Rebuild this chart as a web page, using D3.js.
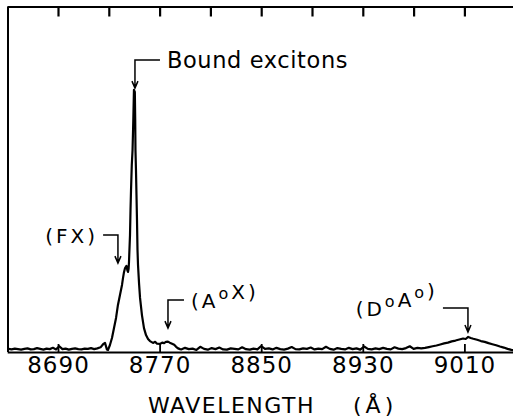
<!DOCTYPE html>
<html>
<head>
<meta charset="utf-8">
<script src="https://cdn.jsdelivr.net/npm/d3@7"></script>
<style>
  body { margin: 0; background: #fff; }
  svg { display: block; }
  text { font-family: "DejaVu Sans", sans-serif; fill: #000; }
</style>
</head>
<body>
<svg id="canvas"></svg>
<script>
// spectrum: wavelength (angstrom) and intensity (arb. units)
let wavelength = [
    8651, 8653.5, 8656, 8658.5, 8661, 8663.5, 8666, 8668.5, 8671, 8673.5,
    8676, 8678.5, 8681, 8683.5, 8686, 8688.5, 8691, 8693.5, 8696, 8698.5,
    8701, 8703.5, 8706, 8708.5, 8711, 8713.5, 8716, 8718.5, 8721, 8723.5,
    8725.5, 8727, 8728.5, 8729.4,
    8730.9, 8732.5, 8734.1, 8735.7, 8737.2, 8738.8, 8740.4, 8741.2, 8742.0, 8742.8,
    8743.9, 8744.6, 8745.1, 8745.6, 8745.9, 8746.1, 8746.7, 8747.1, 8747.5, 8748.1,
    8748.7, 8749.3, 8749.8, 8750.5, 8750.8, 8751.0, 8751.4, 8751.8, 8752.2, 8752.6,
    8753.0, 8753.8, 8754.6, 8756.1, 8757.7, 8759.3, 8760.9, 8762.4, 8764.8, 8766.5,
    8768, 8770.3, 8772, 8773.5, 8775, 8776.6, 8778, 8779.8, 8781.5, 8783,
    8784.5, 8786.1,
    8787, 8790, 8793, 8796, 8799, 8802, 8805, 8808, 8811, 8814,
    8817, 8820, 8823, 8826, 8829, 8832, 8835, 8838, 8841, 8844,
    8847, 8850, 8853, 8856, 8859, 8862, 8865, 8868, 8871, 8874,
    8877, 8880, 8883, 8886, 8889, 8892, 8895, 8898, 8901, 8904,
    8907, 8910, 8913, 8916, 8919, 8922, 8925, 8928, 8931, 8934,
    8937, 8940, 8943, 8946, 8949, 8952, 8955, 8958, 8961, 8964,
    8967, 8970, 8973, 8976,
    8979, 8982, 8985, 8988, 8991, 8994, 8997, 9000, 9003, 9006,
    9009, 9011, 9013, 9015, 9017, 9020, 9023, 9026, 9029, 9032,
    9035, 9038, 9041, 9044, 9047, 9050
]
let intensity = [
    1.2, 1.0, 1.3, 1.1, 0.9, 1.2, 1.4, 1.0, 1.1, 1.5,
    1.2, 0.9, 1.3, 1.1, 1.6, 1.0, 2.2, 1.1, 1.3, 0.9,
    1.2, 1.4, 1.1, 1.0, 1.3, 1.2, 1.5, 1.1, 1.4, 1.8,
    3.0, 3.5, 1.0, 0.8,
    2.7, 5.4, 9.2, 13.1, 18.1, 21.9, 25.8, 28.5, 30.8, 32.3,
    33.1, 31.5, 30.8, 32.0, 34.6, 37.3, 45, 54.6, 62.3, 71.9,
    77.7, 89.2, 100.8, 100, 89.2, 77.7, 70, 60.4, 50.8, 39.2,
    33.5, 26.5, 20.8, 14.2, 9.2, 6.5, 5.0, 4.2, 3.5, 3.9,
    3.2, 3.1, 3.6, 3.4, 3.9, 4.0, 3.6, 3.2, 2.8, 2.0,
    1.4, 1.1,
    1.0, 1.6, 1.1, 1.3, 0.8, 2.0, 1.2, 0.9, 1.5, 1.1,
    1.7, 1.0, 0.9, 1.4, 1.2, 1.0, 1.8, 1.1, 0.9, 1.3,
    1.0, 2.3, 1.2, 1.4, 1.0, 1.6, 1.1, 0.9, 1.3, 1.9,
    1.1, 1.0, 1.4, 1.2, 1.7, 1.0, 1.3, 1.1, 2.0, 1.2,
    0.9, 1.5, 1.2, 1.0, 1.6, 1.1, 1.4, 0.9, 2.1, 1.2,
    1.0, 1.4, 1.1, 1.6, 1.2, 1.0, 1.8, 1.3, 1.1, 1.5,
    2.2, 1.2, 1.6, 1.4,
    1.6, 1.9, 2.2, 2.5, 2.9, 3.3, 3.6, 4.1, 4.4, 4.8,
    5.2, 5.0, 5.8, 5.4, 5.1, 4.7, 4.2, 3.9, 3.4, 3.0,
    2.6, 2.1, 1.7, 1.2, 0.8, 0.6
]

let labelTicks = [8690, 8770, 8850, 8930, 9010]
let topTicks = [8690, 8730, 8770, 8810, 8850, 8890, 8930, 8970, 9010, 9050]

// annotation arrows: tip wavelength / intensity, elbow height, run of the horizontal bar
let notes = [
    {text: "Bound excitons", tipW: 8750.6, tipV: 101.5, barV: 112.3, barW: 8770.3, side: "right"},
    {text: "(FX)", tipW: 8737.2, tipV: 34.2, barV: 45.0, barW: 8725.5, side: "left"},
    {text: "(A0X)", tipW: 8776.6, tipV: 9.2, barV: 20.0, barW: 8789.2, side: "right"},
    {text: "(D0A0)", tipW: 9012.8, tipV: 7.7, barV: 16.9, barW: 8993.1, side: "left"}
]

let width = 513
let height = 418

let canvas = d3.select("#canvas")
    .attr("width", width)
    .attr("height", height)

let xScale = d3.scaleLinear()
    .domain([8650, 9050])
    .range([7.2, 515.2])

let yScale = d3.scaleLinear()
    .domain([0, 100])
    .range([352, 92])

let frameTop = 6.5

let bottomAxis = d3.axisBottom(xScale)
    .tickValues(labelTicks)
    .tickSize(-8)
    .tickSizeOuter(0)
    .tickPadding(5)
    .tickFormat(d3.format("d"))

canvas.append("g")
    .attr("transform", "translate(0,352)")
    .call(bottomAxis)
    .call(g => g.select(".domain").attr("stroke-width", 2))
    .call(g => g.selectAll(".tick line").attr("stroke-width", 1.8))
    .call(g => g.selectAll(".tick text")
        .attr("font-size", 23)
        .attr("font-family", "DejaVu Sans")
        .attr("letter-spacing", 1))

// spectrum
let points = wavelength.map((w, i) => [w, intensity[i]])

let line = d3.line()
    .x(d => xScale(d[0]))
    .y(d => yScale(d[1]))

canvas.append("path")
    .datum(points)
    .attr("d", line)
    .attr("fill", "none")
    .attr("stroke", "#000")
    .attr("stroke-width", 2.2)
    .attr("stroke-linejoin", "round")

// annotations
notes.forEach(n => {
    let tx = xScale(n.tipW)
    let ty = yScale(n.tipV)
    let by = yScale(n.barV)
    let bx = xScale(n.barW)

    canvas.append("path")
        .attr("d", "M" + bx + "," + by + "H" + tx + "V" + ty
            + "M" + (tx - 3) + "," + (ty - 7) + "L" + tx + "," + ty + "L" + (tx + 3) + "," + (ty - 7))
        .attr("fill", "none")
        .attr("stroke", "#000")
        .attr("stroke-width", 1.5)

    let big = n.text == "Bound excitons"
    let label = canvas.append("text")
        .attr("font-size", big ? 22.5 : 20)
        .attr("letter-spacing", big ? 0.6 : 3)
        .attr("y", by + 8)

    if (n.side == "right") {
        label.attr("x", bx + 7).attr("text-anchor", "start")
    } else {
        label.attr("x", bx - 5).attr("text-anchor", "end")
    }

    // superscript zeros
    let parts = n.text.split(/(0)/)
    parts.forEach(p => {
        if (p == "0") {
            label.append("tspan")
                .attr("dy", -9)
                .attr("font-size", 16)
                .text("o")
            label.append("tspan").attr("dy", 9).text("")
        } else if (p.length) {
            label.append("tspan").text(p)
        }
    })
})

canvas.append("text")
    .attr("x", 148)
    .attr("y", 413)
    .attr("font-size", 22)
    .attr("letter-spacing", 1.5)
    .text("WAVELENGTH")

canvas.append("text")
    .attr("x", 353)
    .attr("y", 413)
    .attr("font-size", 22)
    .attr("letter-spacing", 4)
    .text("(Å)")

// frame: left side, then the top axis with inward ticks
canvas.append("line")
    .attr("x1", 8).attr("x2", 8)
    .attr("y1", frameTop).attr("y2", 352)
    .attr("stroke", "#000")
    .attr("stroke-width", 2)

let topAxis = d3.axisTop(xScale)
    .tickValues(topTicks)
    .tickSize(-10)
    .tickSizeOuter(0)
    .tickFormat(() => "")

canvas.append("g")
    .attr("transform", "translate(0," + frameTop + ")")
    .call(topAxis)
    .call(g => g.select(".domain").attr("stroke-width", 2))
    .call(g => g.selectAll(".tick line").attr("stroke-width", 2.2))
</script>
</body>
</html>
